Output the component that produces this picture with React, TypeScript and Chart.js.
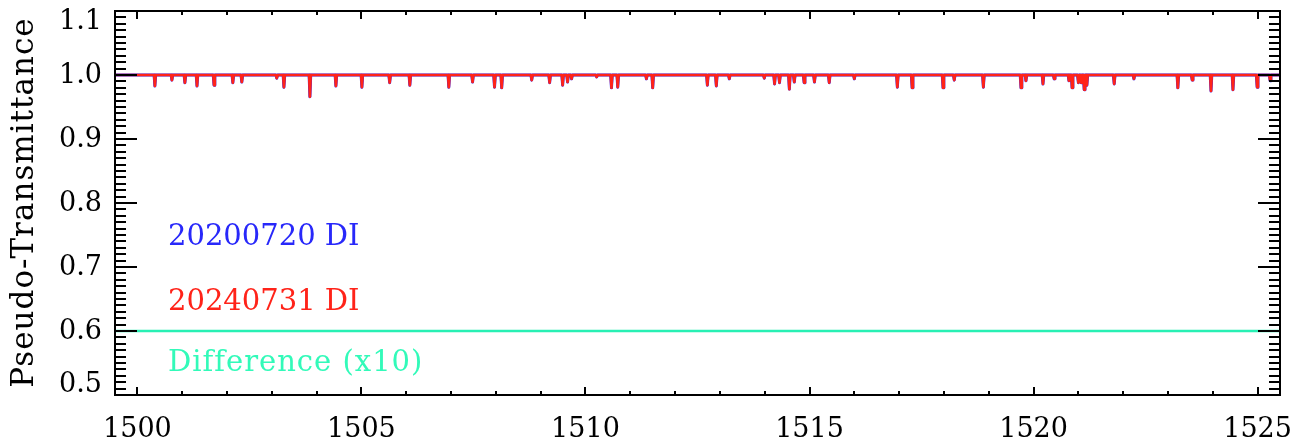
import React, { useEffect, useRef } from "react";
import { Chart, registerables } from "chart.js";

Chart.register(...registerables);

// ---- Data ----
const X_MIN = 1499.5;
const X_MAX = 1525.5;
const Y_MIN = 0.5;
const Y_MAX = 1.1;
const CONTINUUM = 1.0;
const DIP_HALF_WIDTH = 0.018;

const lineCenters = [
  1500.39, 1500.77, 1501.06, 1501.33, 1501.71, 1502.13, 1502.33, 1503.11, 1503.27, 1503.85,
  1504.43, 1505.01, 1505.63, 1506.08, 1506.95, 1507.48, 1507.97, 1508.13, 1508.8, 1509.2,
  1509.49, 1509.6, 1509.69, 1510.25, 1510.58, 1510.72, 1511.36, 1511.5, 1512.72, 1512.92,
  1513.21, 1513.99, 1514.22, 1514.33, 1514.55, 1514.66, 1514.88, 1515.11, 1515.44, 1516.0,
  1516.96, 1517.29, 1517.98, 1518.23, 1518.88, 1519.72, 1519.83, 1520.21, 1520.46, 1520.79,
  1520.86, 1521.0, 1521.06, 1521.13, 1521.19, 1521.8, 1522.24, 1523.22, 1523.54, 1523.96,
  1524.45, 1524.99, 1525.28,
];

const redDepths = [
  0.983, 0.992, 0.988, 0.983, 0.984, 0.988, 0.989, 0.995, 0.981, 0.966,
  0.983, 0.981, 0.988, 0.984, 0.981, 0.989, 0.981, 0.98, 0.992, 0.988,
  0.984, 0.989, 0.994, 0.997, 0.98, 0.981, 0.994, 0.98, 0.984, 0.983,
  0.994, 0.995, 0.986, 0.988, 0.978, 0.989, 0.988, 0.989, 0.988, 0.994,
  0.981, 0.98, 0.98, 0.992, 0.981, 0.98, 0.991, 0.986, 0.994, 0.991,
  0.98, 0.988, 0.988, 0.977, 0.984, 0.986, 0.994, 0.98, 0.992, 0.975,
  0.977, 0.981, 0.991,
];

const blueDepths = [
  0.983, 0.992, 0.988, 0.983, 0.984, 0.988, 0.989, 0.995, 0.981, 0.966,
  0.983, 0.981, 0.988, 0.984, 0.981, 0.989, 0.981, 0.98, 0.992, 0.988,
  0.984, 0.989, 0.994, 0.997, 0.98, 0.981, 0.994, 0.98, 0.984, 0.983,
  0.994, 0.995, 0.986, 0.988, 0.978, 0.989, 0.988, 0.989, 0.988, 0.994,
  0.981, 0.98, 0.98, 0.992, 0.981, 0.98, 0.991, 0.986, 0.994, 0.991,
  0.98, 0.988, 0.988, 0.977, 0.984, 0.986, 0.994, 0.98, 0.992, 0.975,
  0.977, 0.981, 0.991,
];

const diffWavelengths = [1499.5, 1525.5];
const diffValues = [0.6, 0.6];

const xMajorLabels = ["1500", "1505", "1510", "1515", "1520", "1525"];
const yMajorLabels = ["0.5", "0.6", "0.7", "0.8", "0.9", "1.0", "1.1"];

const legendLabels = ["20200720 DI", "20240731 DI", "Difference (x10)"];
const yTitle = "Pseudo-Transmittance";

// ---- Styles ----
const BLUE = "rgb(40,40,250)";
const RED = "rgb(255,35,25)";
const GREEN = "rgb(40,240,180)";
const GREEN_TEXT = "rgb(50,250,185)";
const FONT = '"DejaVu Serif", serif';

function buildSpectrum(centers: number[], depths: number[]) {
  const pts: { x: number; y: number }[] = [{ x: X_MIN, y: CONTINUUM }];
  for (let i = 0; i < centers.length; i++) {
    const c = centers[i];
    const prev = i > 0 ? centers[i - 1] : -Infinity;
    const next = i < centers.length - 1 ? centers[i + 1] : Infinity;
    const left = Math.max(c - DIP_HALF_WIDTH, (prev + c) / 2);
    const right = Math.min(c + DIP_HALF_WIDTH, (c + next) / 2);
    pts.push({ x: left, y: CONTINUUM }, { x: c, y: depths[i] }, { x: right, y: CONTINUUM });
  }
  pts.push({ x: X_MAX, y: CONTINUUM });
  return pts;
}

const idlPlugin = {
  id: "idlAxes",
  afterDraw(chart: any) {
    const ctx = chart.ctx as CanvasRenderingContext2D;
    const { left, right, top, bottom } = chart.chartArea;
    const xs = chart.scales.x;
    const ys = chart.scales.y;
    ctx.save();
    ctx.strokeStyle = "#000";
    ctx.fillStyle = "#000";
    ctx.lineWidth = 2;
    ctx.strokeRect(left, top, right - left, bottom - top);

    // y ticks (minor 0.01, major 0.1), both sides, inward
    for (let k = Math.round(Y_MIN * 100); k <= Math.round(Y_MAX * 100); k++) {
      const py = Math.round(ys.getPixelForValue(k / 100));
      const len = k % 10 === 0 ? 22 : 11;
      ctx.beginPath();
      ctx.moveTo(left, py);
      ctx.lineTo(left + len, py);
      ctx.moveTo(right, py);
      ctx.lineTo(right - len, py);
      ctx.stroke();
    }
    // x ticks (minor 1, major 5), top and bottom
    for (let w = Math.ceil(X_MIN); w <= Math.floor(X_MAX); w++) {
      const px = Math.round(xs.getPixelForValue(w));
      const len = w % 5 === 0 ? 8 : 4;
      ctx.beginPath();
      ctx.moveTo(px, bottom);
      ctx.lineTo(px, bottom - len);
      ctx.moveTo(px, top);
      ctx.lineTo(px, top + len);
      ctx.stroke();
    }

    // x labels
    ctx.font = `27px ${FONT}`;
    ctx.textAlign = "center";
    ctx.textBaseline = "alphabetic";
    xMajorLabels.forEach((lab) => {
      const px = xs.getPixelForValue(parseFloat(lab));
      ctx.fillText(lab, px, 437);
    });
    // y labels
    ctx.textAlign = "right";
    ctx.textBaseline = "middle";
    yMajorLabels.forEach((lab) => {
      let py = ys.getPixelForValue(parseFloat(lab)) + 1;
      py = Math.min(Math.max(py, top + 11), bottom - 10);
      ctx.fillText(lab, 102, py);
    });

    // y title
    ctx.save();
    ctx.translate(33, 202.5);
    ctx.rotate(-Math.PI / 2);
    ctx.font = `31px ${FONT}`;
    (ctx as any).letterSpacing = "1px";
    ctx.textAlign = "center";
    ctx.textBaseline = "alphabetic";
    ctx.fillText(yTitle, 0, 0);
    (ctx as any).letterSpacing = "0px";
    ctx.restore();

    // legend texts
    ctx.font = `29px ${FONT}`;
    ctx.textAlign = "left";
    ctx.textBaseline = "alphabetic";
    ctx.fillStyle = BLUE;
    ctx.fillText(legendLabels[0], 168, 245);
    ctx.fillStyle = RED;
    ctx.fillText(legendLabels[1], 168, 310);
    ctx.fillStyle = GREEN_TEXT;
    (ctx as any).letterSpacing = "1px";
    ctx.fillText(legendLabels[2], 168, 371);
    (ctx as any).letterSpacing = "0px";
    ctx.restore();
  },
};

export default function App() {
  const ref = useRef<HTMLCanvasElement | null>(null);
  useEffect(() => {
    if (!ref.current) return;
    const chart = new Chart(ref.current, {
      type: "line",
      data: {
        datasets: [
          {
            label: legendLabels[1],
            data: buildSpectrum(lineCenters, redDepths),
            borderColor: RED,
            borderWidth: 2.6,
            borderJoinStyle: "round",
            pointRadius: 0,
            order: 1,
          },
          {
            label: legendLabels[0],
            data: buildSpectrum(lineCenters, blueDepths),
            borderColor: BLUE,
            borderWidth: 3,
            borderJoinStyle: "round",
            pointRadius: 0,
            order: 2,
          },
          {
            label: legendLabels[2],
            data: diffWavelengths.map((x, i) => ({ x, y: diffValues[i] })),
            borderColor: GREEN,
            borderWidth: 2.5,
            pointRadius: 0,
            order: 3,
          },
        ],
      },
      options: {
        animation: false,
        responsive: true,
        maintainAspectRatio: false,
        layout: { padding: { left: 115, right: 17, top: 11, bottom: 46 } },
        plugins: { legend: { display: false }, tooltip: { enabled: false } },
        elements: { line: { tension: 0 } },
        scales: {
          x: {
            type: "linear",
            min: X_MIN,
            max: X_MAX,
            ticks: { display: false },
            grid: { display: false },
            border: { display: false },
            afterFit: (s: any) => {
              s.height = 0;
            },
          },
          y: {
            type: "linear",
            min: Y_MIN,
            max: Y_MAX,
            ticks: { display: false },
            grid: { display: false },
            border: { display: false },
            afterFit: (s: any) => {
              s.width = 0;
            },
          },
        },
      },
      plugins: [idlPlugin],
    });
    return () => chart.destroy();
  }, []);
  return (
    <div style={{ position: "fixed", left: 0, top: 0, width: 1297, height: 441, background: "#fff" }}>
      <canvas ref={ref} />
    </div>
  );
}
